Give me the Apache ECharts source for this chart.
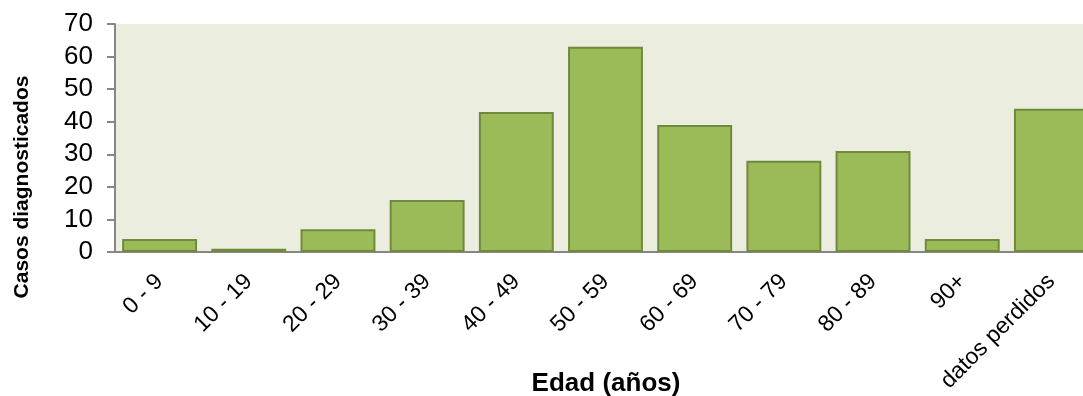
<!DOCTYPE html>
<html>
<head>
<meta charset="utf-8">
<script src="https://cdn.jsdelivr.net/npm/echarts@6/dist/echarts.min.js"></script>
<style>
  html, body { margin: 0; padding: 0; background: #ffffff; overflow: hidden; }
  /* plot area runs past the right edge of the window, so the canvas is wider */
  #chart { width: 1100px; height: 396px; }
</style>
</head>
<body>
<div id="chart"></div>
<script>
// Age groups and number of diagnosed cases
const categories = ['0 - 9', '10 - 19', '20 - 29', '30 - 39', '40 - 49', '50 - 59',
                    '60 - 69', '70 - 79', '80 - 89', '90+', 'datos perdidos'];
const casos = [4, 1, 7, 16, 43, 63, 39, 28, 31, 4, 44];
const yMin = 0, yMax = 70, yStep = 10;
const xTitle = 'Edad (años)';
const yTitle = 'Casos diagnosticados';

const font = '"Liberation Sans", Arial, Helvetica, sans-serif';
const chart = echarts.init(document.getElementById('chart'), null, { renderer: 'canvas' });

chart.setOption({
  animation: false,
  backgroundColor: '#ffffff',
  grid: {
    left: 115, top: 24, width: 981, height: 228,
    show: true, backgroundColor: '#ebeedf', borderWidth: 0,
    containLabel: false
  },
  xAxis: {
    type: 'category',
    data: categories,
    axisLine: { show: true, lineStyle: { color: '#868686', width: 2 } },
    axisTick: { show: false },
    axisLabel: {
      interval: 0, rotate: 45, margin: 26,
      fontFamily: font, fontSize: 23, color: '#000000'
    },
    splitLine: { show: false }
  },
  yAxis: {
    type: 'value',
    min: yMin, max: yMax, interval: yStep,
    axisLine: { show: true, lineStyle: { color: '#868686', width: 2 } },
    axisTick: { show: true, length: 8, lineStyle: { color: '#868686', width: 2 } },
    axisLabel: { margin: 22, fontFamily: font, fontSize: 26, color: '#000000' },
    splitLine: { show: false }
  },
  series: [{
    type: 'bar',
    data: casos,
    barWidth: '84%',
    itemStyle: { color: '#9bbb59', borderColor: '#71893f', borderWidth: 2 }
  }],
  graphic: [
    {
      type: 'text',
      x: 22, y: 187, rotation: Math.PI / 2,
      style: {
        text: yTitle, fontFamily: font, fontSize: 21, fontWeight: 'bold',
        fill: '#000000', align: 'center', verticalAlign: 'middle'
      }
    },
    {
      type: 'text',
      x: 606, y: 384,
      style: {
        text: xTitle, fontFamily: font, fontSize: 26, fontWeight: 'bold',
        fill: '#000000', align: 'center', verticalAlign: 'middle'
      }
    }
  ]
});
</script>
</body>
</html>
